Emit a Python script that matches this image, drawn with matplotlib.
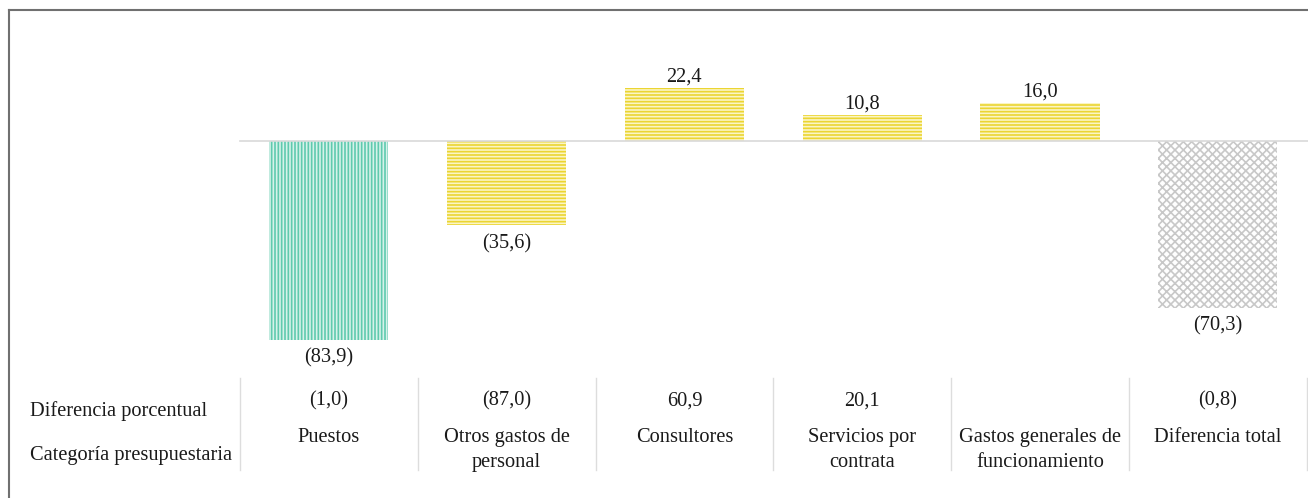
import matplotlib.pyplot as plt
import matplotlib.transforms as mtransforms
from matplotlib.lines import Line2D

plt.rcParams['font.family'] = ['Liberation Serif', 'DejaVu Serif']
plt.rcParams['hatch.linewidth'] = 1.2

# datos
categorias = ['Puestos', 'Otros gastos de\npersonal', 'Consultores',
              'Servicios por\ncontrata', 'Gastos generales de\nfuncionamiento',
              'Diferencia total']
valores = [-83.9, -35.6, 22.4, 10.8, 16.0, -70.3]
dif_pct = ['(1,0)', '(87,0)', '60,9', '20,1', '', '(0,8)']
etiquetas = ['(83,9)', '(35,6)', '22,4', '10,8', '16,0', '(70,3)']

W, H = 1308, 498
fs = 14.7
fig = plt.figure(figsize=(W / 100, H / 100), dpi=100)

# eje del grafico, en pixeles
x0, x1 = 240, 1306.6
ytop, ybot = 20, 370
ax = fig.add_axes([x0 / W, 1 - ybot / H, (x1 - x0) / W, (ybot - ytop) / H])
escala = 2.372  # px por unidad
y_cero = 141
ax.set_ylim(-(ybot - y_cero) / escala, (y_cero - ytop) / escala)
ax.set_xlim(-0.5, len(categorias) - 0.5)
ax.axis('off')

caras = ['#d6f2ea', '#fbf5c4', '#fbf5c4', '#fbf5c4', '#fbf5c4', 'white']
tramas = ['#5fcaae', '#ebd532', '#ebd532', '#ebd532', '#ebd532', '#c8c8c8']
patrones = ['|||||', '-----', '-----', '-----', '-----', 'xxxx']

for i, v in enumerate(valores):
    ax.bar(i, v, width=0.67, color=caras[i], edgecolor=tramas[i],
           hatch=patrones[i], linewidth=0)
    if v < 0:
        ax.annotate(etiquetas[i], (i, v), xytext=(0, -6), textcoords='offset points',
                    ha='center', va='top', fontsize=fs, color='#1a1a1a')
    else:
        ax.annotate(etiquetas[i], (i, v), xytext=(0, 1), textcoords='offset points',
                    ha='center', va='bottom', fontsize=fs, color='#1a1a1a')

ax.axhline(0, color='#d9d9d9', lw=1.2, xmin=0, xmax=1.02, clip_on=False)

# tabla inferior
tr = mtransforms.blended_transform_factory(ax.transData, fig.transFigure)
def fy(px):
    return 1 - px / H

for i in range(len(categorias)):
    ax.text(i, fy(401), dif_pct[i], transform=tr, ha='center', va='center',
            fontsize=fs, color='#1a1a1a')
    ax.text(i, fy(428), categorias[i], transform=tr, ha='center', va='top',
            fontsize=fs, color='#1a1a1a', linespacing=1.45)
for i in range(len(categorias) + 1):
    ax.add_line(Line2D([i - 0.5, i - 0.5], [fy(378), fy(470)], transform=tr,
                       color='#dddddd', lw=1, clip_on=False))

fig.text(30 / W, fy(411), 'Diferencia porcentual', ha='left', va='center',
         fontsize=fs, color='#1a1a1a')
fig.text(30 / W, fy(455), 'Categoría presupuestaria', ha='left', va='center',
         fontsize=fs, color='#1a1a1a')

# marco
fig.add_artist(Line2D([9 / W, 1], [fy(10), fy(10)], color='#707070', lw=1.5))
fig.add_artist(Line2D([9 / W, 9 / W], [fy(10), 0], color='#707070', lw=1.5))

fig.savefig('out.png', dpi=100)
